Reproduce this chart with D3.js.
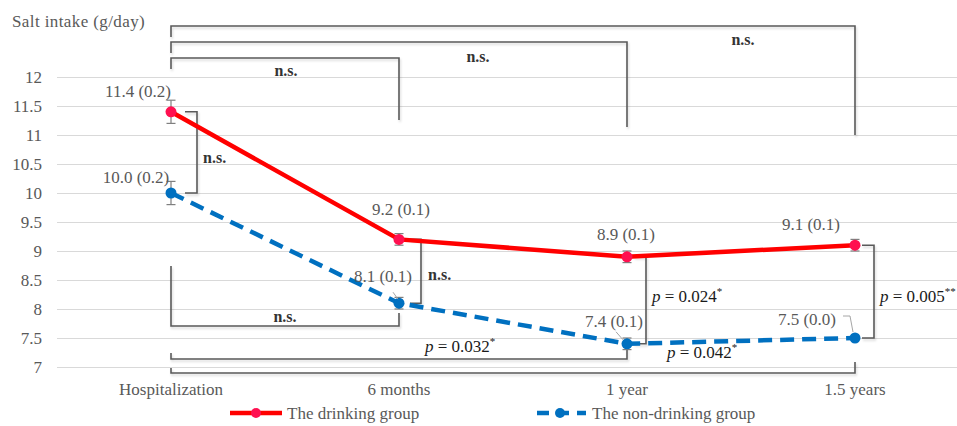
<!DOCTYPE html>
<html><head><meta charset="utf-8">
<script src="https://cdn.jsdelivr.net/npm/d3@7"></script>
<style>
html,body{margin:0;padding:0;background:#fff;}
svg{display:block;}
</style></head>
<body><svg id="chart" width="957" height="426"></svg>
<script>
// ---- data ----
const categories = ["Hospitalization", "6 months", "1 year", "1.5 years"];
const drinking = [11.4, 9.2, 8.9, 9.1];
const drinkingSE = [0.2, 0.1, 0.1, 0.1];
const nonDrinking = [10.0, 8.1, 7.4, 7.5];
const nonDrinkingSE = [0.2, 0.1, 0.1, 0.0];
const yTicks = [7, 7.5, 8, 8.5, 9, 9.5, 10, 10.5, 11, 11.5, 12];
const seriesNames = ["The drinking group", "The non-drinking group"];
const yTitle = "Salt intake (g/day)";
// within-group comparisons: drinking group (top) and non-drinking group (bottom)
const topComparisons = [
  {from: 0, to: 3, label: "n.s."},
  {from: 0, to: 2, label: "n.s."},
  {from: 0, to: 1, label: "n.s."}
];
const bottomComparisons = [
  {from: 0, to: 1, label: "n.s."},
  {from: 0, to: 2, label: "0.032", stars: "*"},
  {from: 0, to: 3, label: "0.042", stars: "*"}
];
// between-group comparisons at each time point
const sideComparisons = [
  {cat: 0, label: "n.s."},
  {cat: 1, label: "n.s."},
  {cat: 2, label: "0.024", stars: "*"},
  {cat: 3, label: "0.005", stars: "**"}
];

// ---- layout ----
const FONT = "Liberation Serif";
const plotLeft = 57, plotRight = 969;
const svg = d3.select("#chart").attr("font-family", FONT);
const x = d3.scaleBand().domain(categories).range([plotLeft, plotRight]).padding(0);
const cx = c => x(c) + x.bandwidth() / 2;
const y = d3.scaleLinear().domain([7, 12]).range([367, 77]);

const defs = svg.append("defs");
const f = defs.append("filter").attr("id", "sh").attr("x", "-20%").attr("y", "-20%").attr("width", "140%").attr("height", "140%");
f.append("feDropShadow").attr("dx", 1).attr("dy", 2).attr("stdDeviation", 1.2).attr("flood-color", "#000").attr("flood-opacity", 0.16);

const textCol = "#595959", brCol = "#5a5a5a";

// gridlines
const grid = svg.append("g").attr("transform", `translate(${plotLeft},0)`)
  .call(d3.axisLeft(y).tickValues(yTicks).tickSize(-(plotRight - plotLeft)).tickFormat(""));
grid.select(".domain").remove();
grid.selectAll("line").attr("stroke", "#d9d9d9").attr("stroke-width", 1);

// y axis labels
const ya = svg.append("g").attr("transform", `translate(${plotLeft},0)`)
  .call(d3.axisLeft(y).tickValues(yTicks).tickSize(0).tickPadding(15).tickFormat(d => d3.format("")(d)));
ya.select(".domain").remove();
ya.selectAll("text").attr("font-size", 17).attr("fill", textCol);

// x axis labels
const xa = svg.append("g").attr("transform", `translate(0,367)`)
  .call(d3.axisBottom(x).tickSize(0).tickPadding(16));
xa.select(".domain").remove();
xa.selectAll("text").attr("font-size", 17).attr("fill", textCol);

// y title
svg.append("text").attr("x", 12).attr("y", 27).attr("font-size", 17).attr("fill", textCol)
  .attr("letter-spacing", 0.4).text(yTitle);

// ---- brackets ----
const br = svg.append("g").attr("fill", "none").attr("stroke", brCol).attr("stroke-width", 1.6).attr("filter", "url(#sh)");
const topLevels = [26, 42, 58];
const topRightEnd = [135, 127, 120];
const topLabelPos = [[743, 45], [478, 62], [286, 76]];
topComparisons.forEach((c, i) => {
  const x0 = cx(categories[c.from]), x1 = cx(categories[c.to]), ly = topLevels[i];
  br.append("path").attr("d", `M${x0},${ly + 11}V${ly}H${x1}V${topRightEnd[i]}`);
});
const bottomLevels = [326, 359, 373];
const bottomLeftStart = [266, 353, 368];
const bottomRightStart = [313, 348, 362];
bottomComparisons.forEach((c, i) => {
  const x0 = cx(categories[c.from]), x1 = cx(categories[c.to]), ly = bottomLevels[i];
  br.append("path").attr("d", `M${x0},${bottomLeftStart[i]}V${ly}H${x1}V${bottomRightStart[i]}`);
});
const sideOff = [[14, 26], [11, 22], [7, 19], [7, 19]];
sideComparisons.forEach((c, i) => {
  const xc = cx(categories[c.cat]);
  const y0 = y(drinking[c.cat]), y1 = y(nonDrinking[c.cat]);
  br.append("path").attr("d", `M${xc + sideOff[i][0]},${y0}H${xc + sideOff[i][1]}V${y1}H${xc + sideOff[i][0]}`);
});

// bracket labels
function pLabel(g, xx, yy, val, stars, anchor) {
  const t = g.append("text").attr("x", xx).attr("y", yy).attr("font-size", 17).attr("fill", "#1a1a1a")
    .attr("text-anchor", anchor || "start");
  t.append("tspan").attr("font-style", "italic").text("p");
  t.append("tspan").text(" = " + val);
  t.append("tspan").attr("font-size", 11).attr("dy", -7).text(stars);
}
const lab = svg.append("g");
topComparisons.forEach((c, i) => {
  lab.append("text").attr("x", topLabelPos[i][0]).attr("y", topLabelPos[i][1]).attr("text-anchor", "middle")
    .attr("font-size", 16).attr("font-weight", "bold").attr("fill", "#333").text(c.label);
});
const bottomLabelPos = [[285, 322, "middle"], [425, 352, "start"], [667, 358, "start"]];
bottomComparisons.forEach((c, i) => {
  const p = bottomLabelPos[i];
  if (c.label === "n.s.") lab.append("text").attr("x", p[0]).attr("y", p[1]).attr("text-anchor", p[2])
      .attr("font-size", 16).attr("font-weight", "bold").attr("fill", "#333").text(c.label);
  else pLabel(lab, p[0], p[1], c.label, c.stars, p[2]);
});
const sideLabelPos = [[203, 163], [428, 280], [652, 302], [880, 302]];
sideComparisons.forEach((c, i) => {
  const p = sideLabelPos[i];
  if (c.label === "n.s.") lab.append("text").attr("x", p[0]).attr("y", p[1])
      .attr("font-size", 16).attr("font-weight", "bold").attr("fill", "#333").text(c.label);
  else pLabel(lab, p[0], p[1], c.label, c.stars);
});

// ---- series ----
const redLine = "#ff0000", redMark = "#ff1050", blue = "#0070c0";
const line = d3.line().x((d, i) => cx(categories[i])).y(d => y(d));

function errBars(vals, ses) {
  const g = svg.append("g").attr("stroke", "#7f7f7f").attr("stroke-width", 1.2);
  vals.forEach((v, i) => {
    const xc = cx(categories[i]);
    const a = y(v + ses[i]), b = y(v - ses[i]);
    g.append("line").attr("x1", xc).attr("x2", xc).attr("y1", a).attr("y2", b);
    g.append("line").attr("x1", xc - 4.5).attr("x2", xc + 4.5).attr("y1", a).attr("y2", a);
    g.append("line").attr("x1", xc - 4.5).attr("x2", xc + 4.5).attr("y1", b).attr("y2", b);
  });
}
errBars(drinking, drinkingSE);
errBars(nonDrinking, nonDrinkingSE);

svg.append("path").datum(nonDrinking).attr("d", line).attr("fill", "none").attr("stroke", blue)
  .attr("stroke-width", 4.5).attr("stroke-dasharray", "14,8");
svg.append("path").datum(drinking).attr("d", line).attr("fill", "none").attr("stroke", redLine)
  .attr("stroke-width", 4.5);
svg.append("g").selectAll("circle").data(nonDrinking).join("circle")
  .attr("cx", (d, i) => cx(categories[i])).attr("cy", d => y(d)).attr("r", 5.5).attr("fill", blue);
svg.append("g").selectAll("circle").data(drinking).join("circle")
  .attr("cx", (d, i) => cx(categories[i])).attr("cy", d => y(d)).attr("r", 5.5).attr("fill", redMark);

// data labels
const fmt = d3.format(".1f");
const drinkLabelPos = [[138, 97], [401, 215], [626, 240], [811, 230]];
const nonLabelPos = [[136, 183], [383, 282], [614, 327], [807, 325]];
const dl = svg.append("g").attr("font-size", 17).attr("fill", textCol).attr("text-anchor", "middle");
drinking.forEach((v, i) => dl.append("text").attr("x", drinkLabelPos[i][0]).attr("y", drinkLabelPos[i][1])
  .text(`${fmt(v)} (${fmt(drinkingSE[i])})`));
nonDrinking.forEach((v, i) => dl.append("text").attr("x", nonLabelPos[i][0]).attr("y", nonLabelPos[i][1])
  .text(`${fmt(v)} (${fmt(nonDrinkingSE[i])})`));
// leader lines
const ll = svg.append("g").attr("fill", "none").attr("stroke", "#a6a6a6").attr("stroke-width", 1);
ll.append("path").attr("d", `M${cx(categories[1]) - 6},${y(nonDrinking[1]) - 11}L${cx(categories[1]) - 1},${y(nonDrinking[1]) - 4}`);
ll.append("path").attr("d", `M${cx(categories[2]) - 11},${y(nonDrinking[2]) - 12}L${cx(categories[2]) - 4},${y(nonDrinking[2]) - 4}`);
ll.append("path").attr("d", `M${cx(categories[3]) - 12},${y(nonDrinking[3]) - 22}H${cx(categories[3]) - 5}L${cx(categories[3]) - 2},${y(nonDrinking[3]) - 6}`);

// ---- legend ----
const lg = svg.append("g");
lg.append("line").attr("x1", 230).attr("x2", 282).attr("y1", 413).attr("y2", 413).attr("stroke", redLine).attr("stroke-width", 4.5);
lg.append("circle").attr("cx", 256).attr("cy", 413).attr("r", 5).attr("fill", redMark);
lg.append("text").attr("x", 287).attr("y", 419).attr("font-size", 17).attr("fill", textCol).text(seriesNames[0]);
lg.append("line").attr("x1", 537).attr("x2", 586).attr("y1", 413).attr("y2", 413).attr("stroke", blue).attr("stroke-width", 4.5).attr("stroke-dasharray", "12,8");
lg.append("circle").attr("cx", 560).attr("cy", 413).attr("r", 5).attr("fill", blue);
lg.append("text").attr("x", 592).attr("y", 419).attr("font-size", 17).attr("fill", textCol).text(seriesNames[1]);

// make sure every text uses the serif family
svg.selectAll("text").attr("font-family", FONT);
</script></body></html>
